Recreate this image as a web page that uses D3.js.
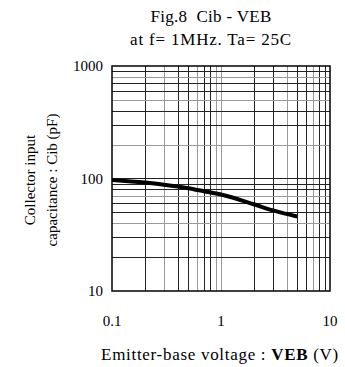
<!DOCTYPE html>
<html>
<head>
<meta charset="utf-8">
<script src="https://cdn.jsdelivr.net/npm/d3@7"></script>
<style>
  html, body { margin: 0; padding: 0; background: #fff; }
  text { font-family: "Liberation Serif", "DejaVu Serif", serif; fill: #000; white-space: pre; }
</style>
</head>
<body>
<div id="chart"></div>
<script>
// --- data ---
const voltage = [0.1, 0.2, 0.3, 0.5, 0.7, 1, 2, 3, 5];          // VEB (V)
const capacitance = [97, 92, 88, 82, 77, 72, 59, 52, 46];        // Cib (pF)
const xTicks = [0.1, 1, 10];
const yTicks = [10, 100, 1000];
const titleLines = ['Fig.8  Cib - VEB', 'at f= 1MHz. Ta= 25C'];
const yTitleLines = ['Collector input', 'capacitance : Cib (pF)'];

const width = 345, height = 367;
const margin = { left: 112, right: 15, top: 66, bottom: 76 };

const svg = d3.select('#chart').append('svg')
  .attr('width', width)
  .attr('height', height);

const x = d3.scaleLog().domain([0.1, 10]).range([margin.left, width - margin.right]);
const y = d3.scaleLog().domain([10, 1000]).range([height - margin.bottom, margin.top]);

// grid: minor lines at 2..9 of each decade
const xGrid = [];
[0.1, 1].forEach(d => { for (let k = 2; k <= 9; k++) xGrid.push(d * k); });
xGrid.push(1);
const yGrid = [];
[10, 100].forEach(d => { for (let k = 2; k <= 9; k++) yGrid.push(d * k); });
yGrid.push(100);

const grid = svg.append('g');
grid.selectAll('.gx').data(xGrid).enter().append('line')
  .attr('x1', d => Math.round(x(d)) + 0.5).attr('x2', d => Math.round(x(d)) + 0.5)
  .attr('y1', y(1000)).attr('y2', y(10))
  .attr('stroke', (d, i) => i % 3 === 1 ? '#999' : '#222')
  .attr('stroke-width', 1);
grid.selectAll('.gy').data(yGrid).enter().append('line')
  .attr('y1', d => Math.round(y(d)) + 0.5).attr('y2', d => Math.round(y(d)) + 0.5)
  .attr('x1', x(0.1)).attr('x2', x(10))
  .attr('stroke', (d, i) => i % 3 === 2 ? '#999' : '#222')
  .attr('stroke-width', 1);

// frame
svg.append('rect')
  .attr('x', x(0.1)).attr('y', y(1000))
  .attr('width', x(10) - x(0.1)).attr('height', y(10) - y(1000))
  .attr('fill', 'none').attr('stroke', '#000').attr('stroke-width', 1.5);

// curve
const line = d3.line()
  .x((d, i) => x(voltage[i]))
  .y(d => y(d))
  .curve(d3.curveMonotoneX);
svg.append('path')
  .attr('d', line(capacitance))
  .attr('fill', 'none')
  .attr('stroke', '#000')
  .attr('stroke-width', 4);

// tick labels
svg.selectAll('.xt').data(xTicks).enter().append('text')
  .attr('x', d => x(d)).attr('y', 326)
  .attr('text-anchor', 'middle')
  .style('font-size', '15px')
  .text(d => d);
svg.selectAll('.yt').data(yTicks).enter().append('text')
  .attr('x', 103).attr('y', d => y(d) + 5)
  .attr('text-anchor', 'end')
  .style('font-size', '15px')
  .text(d => d);

// titles
svg.selectAll('.title').data(titleLines).enter().append('text')
  .attr('x', 211).attr('y', (d, i) => 22 + i * 23)
  .attr('text-anchor', 'middle')
  .style('font-size', '17px')
  .style('letter-spacing', (d, i) => i ? '0.8px' : '0.3px')
  .text(d => d);

const xTitle = svg.append('text')
  .attr('x', 220).attr('y', 360)
  .attr('text-anchor', 'middle')
  .style('font-size', '17px')
  .style('letter-spacing', '0.7px');
xTitle.append('tspan').text('Emitter-base voltage : ');
xTitle.append('tspan').style('font-weight', 'bold').text('VEB');
xTitle.append('tspan').text(' (V)');

svg.selectAll('.ytitle').data(yTitleLines).enter().append('text')
  .attr('transform', (d, i) => `translate(${35 + i * 22},180) rotate(-90)`)
  .attr('text-anchor', 'middle')
  .style('font-size', '15px')
  .text(d => d);
</script>
</body>
</html>
